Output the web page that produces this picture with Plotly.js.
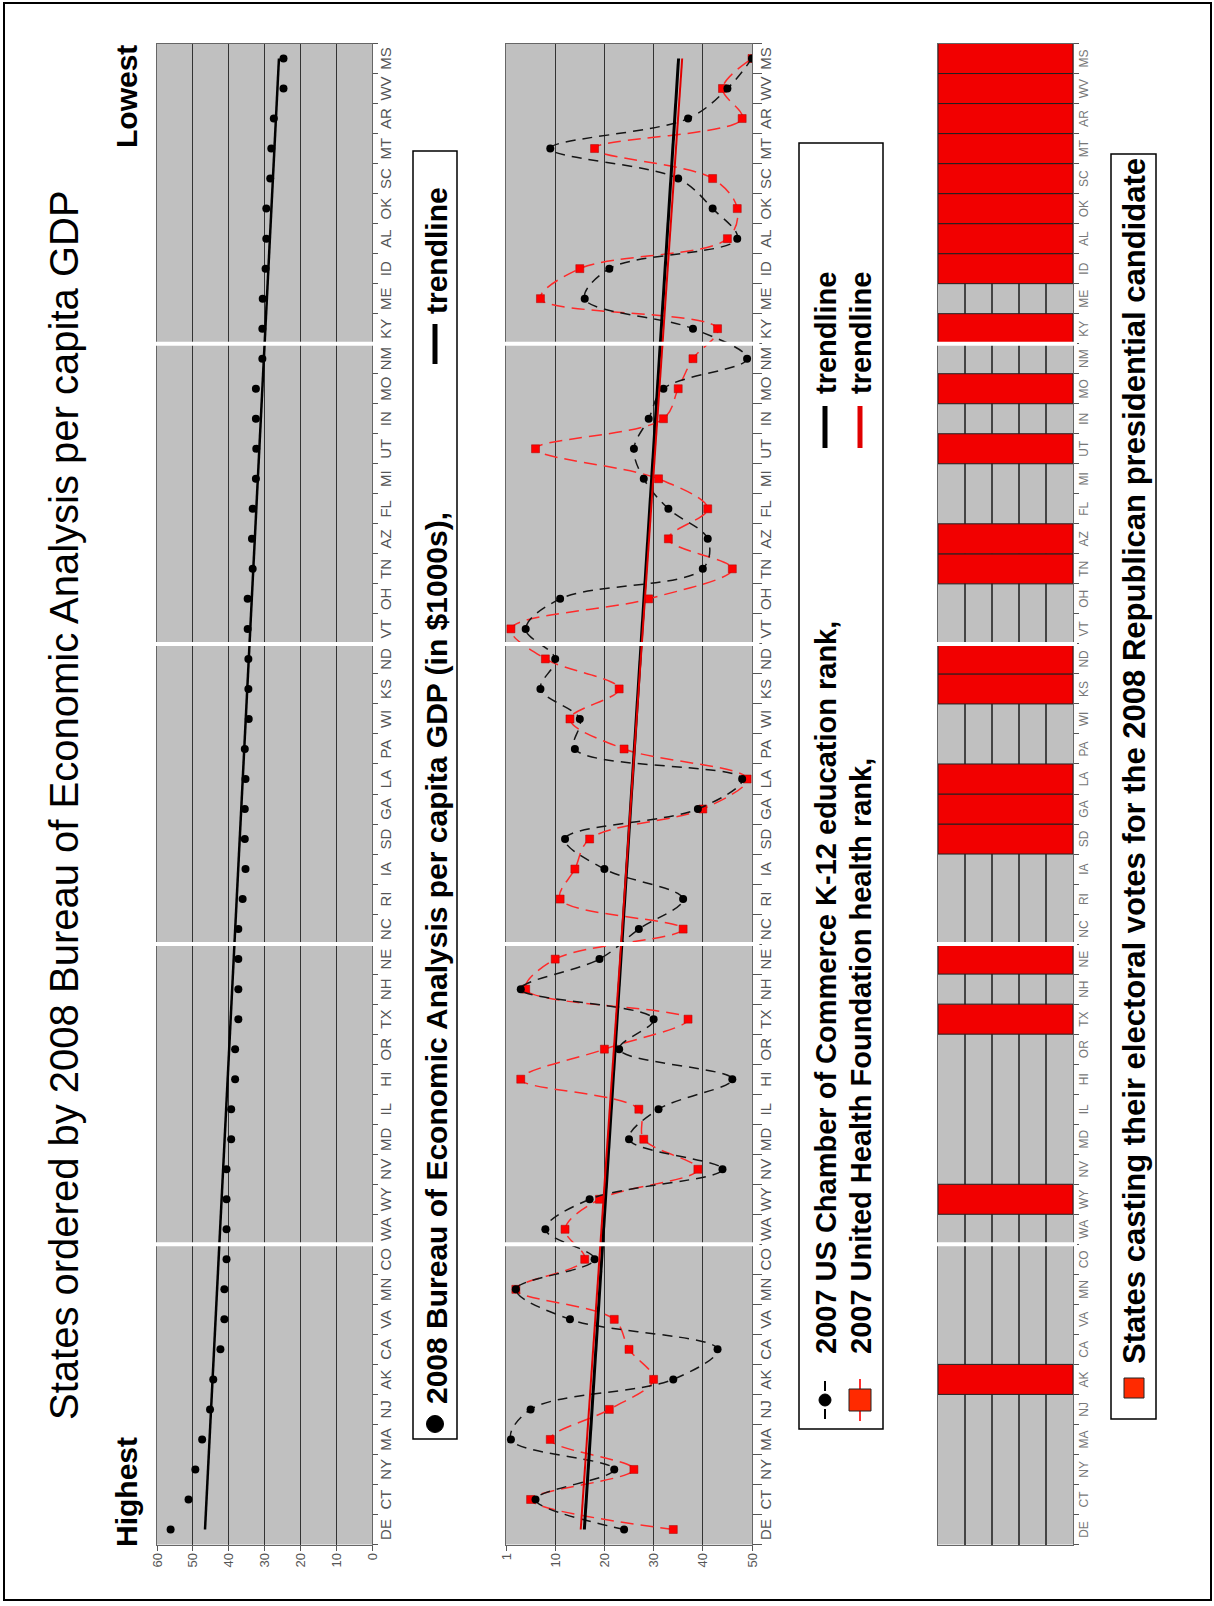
<!DOCTYPE html>
<html><head><meta charset="utf-8">
<script src="https://cdn.plot.ly/plotly-3.0.1.min.js"></script>
<style>
html,body{margin:0;padding:0;background:#fff;overflow:hidden;width:1214px;height:1606px;}
#wrap{position:absolute;left:0;top:0;width:1606px;height:1214px;transform-origin:0 0;transform:translate(0px,1606px) rotate(-90deg);}
#chart{width:1606px;height:1214px;}
</style></head><body>
<div id="wrap"><div id="chart"></div></div>
<script>
// ---- data ----
const states = ['DE','CT','NY','MA','NJ','AK','CA','VA','MN','CO','WA','WY','NV','MD','IL','HI','OR','TX','NH','NE','NC','RI','IA','SD','GA','LA','PA','WI','KS','ND','VT','OH','TN','AZ','FL','MI','UT','IN','MO','NM','KY','ME','ID','AL','OK','SC','MT','AR','WV','MS'];
const gdp = [56.2,51.2,49.3,47.4,45.2,44.3,42.3,41.2,41.2,40.6, 40.6,40.6,40.6,39.3,39.3,38.2,38.2,37.3,37.3,37.3, 37.3,36.1,35.3,35.5,35.5,35.3,35.5,34.4,34.5,34.5, 34.7,34.7,33.3,33.5,33.3,32.4,32.3,32.4,32.4,30.6, 30.6,30.5,29.7,29.5,29.5,28.4,28.1,27.4,24.7,24.7];
const eduRank = [24,6,22,1,5,34,43,13,2,18, 8,17,44,25,31,46,23,30,3,19, 27,36,20,12,39,48,14,15,7,10, 4,11,40,41,33,28,26,29,32,49, 38,16,21,47,42,35,9,37,45,50];
const healthRank = [34,5,26,9,21,30,25,22,2,16, 12,19,39,28,27,3,20,37,4,10, 36,11,14,17,40,49,24,13,23,8, 1,29,46,33,41,31,6,32,35,38, 43,7,15,45,47,42,18,48,44,50];
const republican = [0,0,0,0,0,1,0,0,0,0, 0,1,0,0,0,0,0,1,0,1, 0,0,0,1,1,1,0,0,1,1, 0,0,1,1,0,0,1,0,1,0, 1,0,1,1,1,1,1,1,1,1];
const gdpTicks = [0,10,20,30,40,50,60];
const rankTickVals = [0,10,20,30,40,50];
const rankTickText = ['1','10','20','30','40','50'];
const groupBreaks = [9.5,19.5,29.5,39.5];

const titleText = 'States ordered by 2008 Bureau of Economic Analysis per capita GDP';
const gdpLegend = '2008 Bureau of Economic Analysis per capita GDP (in $1000s),';
const eduLegend = '2007 US Chamber of Commerce K-12 education rank,';
const healthLegend = '2007 United Health Foundation health rank,';
const voteLegend = 'States casting their electoral votes for the 2008 Republican presidential candidate';

// ---- helpers ----
function linfit(vals){
  const n = vals.length; let sx=0, sy=0, sxx=0, sxy=0;
  for(let i=0;i<n;i++){const x=i+1; sx+=x; sy+=vals[i]; sxx+=x*x; sxy+=x*vals[i];}
  const b=(n*sxy-sx*sy)/(n*sxx-sx*sx), a=(sy-b*sx)/n;
  return vals.map((v,i)=>a+b*(i+1));
}
const W=1606, H=1214;
const PX = v => v/W, PY = v => 1 - v/H;
const xDom = [61.5/W, 1562.5/W];
const FONT = 'Liberation Sans, Arial, sans-serif';

function catAxis(anchor, fs, tl, col){
  return {domain:xDom, anchor:anchor, type:'category', categoryorder:'array', categoryarray:states,
    range:[-0.5,49.5], tickmode:'linear', tick0:0, dtick:1, tickson:'boundaries', tickangle:0,
    ticks:'outside', ticklen:tl, tickcolor:'#555', showline:true, mirror:true, linecolor:'#666', linewidth:1,
    showgrid:false, zeroline:false, tickfont:{family:FONT, size:fs, color:col}, fixedrange:true};
}

const data = [
  {type:'scatter', mode:'markers', x:states, y:gdp, xaxis:'x', yaxis:'y', marker:{color:'#000', size:8}},
  {type:'scatter', mode:'lines', x:states, y:linfit(gdp), xaxis:'x', yaxis:'y', line:{color:'#000', width:2.5}},
  {type:'scatter', mode:'lines+markers', x:states, y:healthRank, xaxis:'x2', yaxis:'y2',
    line:{color:'#ff2a2a', width:1.5, dash:'13px,7px', shape:'spline', smoothing:1},
    marker:{symbol:'square', size:8, color:'#ff0000', line:{color:'#a00', width:0.5}}},
  {type:'scatter', mode:'lines+markers', x:states, y:eduRank, xaxis:'x2', yaxis:'y2',
    line:{color:'#151515', width:1.5, dash:'10px,7px', shape:'spline', smoothing:1},
    marker:{symbol:'circle', size:8, color:'#000'}},
  {type:'scatter', mode:'lines', x:states, y:linfit(eduRank), xaxis:'x2', yaxis:'y2', line:{color:'#000', width:3}},
  {type:'scatter', mode:'lines', x:states, y:linfit(healthRank), xaxis:'x2', yaxis:'y2', line:{color:'#e00000', width:2}},
  {type:'bar', x:states, y:republican.map(v=>v?1:null), xaxis:'x3', yaxis:'y3', width:1,
    marker:{color:'#f20000', line:{color:'#222', width:1}}}
];

const valFont = {family:FONT, size:13, color:'#555'};
const layout = {
  width:W, height:H, margin:{l:0,r:0,t:0,b:0}, showlegend:false,
  paper_bgcolor:'#fff', plot_bgcolor:'#c0c0c0',
  xaxis: catAxis('y', 15, 5, '#555'),
  xaxis2: catAxis('y2', 15, 9, '#555'),
  xaxis3: catAxis('y3', 12, 5, '#777'),
  yaxis: {domain:[1-372/H, 1-157/H], anchor:'x', range:[0,60], tickmode:'array', tickvals:gdpTicks,
    ticks:'outside', ticklen:5, tickcolor:'#555', showgrid:true, gridcolor:'#333', gridwidth:1,
    showline:true, mirror:true, linecolor:'#666', zeroline:false, tickfont:valFont, fixedrange:true},
  yaxis2: {domain:[1-752/H, 1-506/H], anchor:'x2', range:[50,0], tickmode:'array', tickvals:rankTickVals, ticktext:rankTickText,
    ticks:'outside', ticklen:5, tickcolor:'#555', showgrid:true, gridcolor:'#333', gridwidth:1,
    showline:true, mirror:true, linecolor:'#666', zeroline:false, tickfont:valFont, fixedrange:true},
  yaxis3: {domain:[1-1073/H, 1-938/H], anchor:'x3', range:[0,1], dtick:0.2, tick0:0, showticklabels:false,
    ticks:'', showgrid:true, gridcolor:'#444', gridwidth:1.5, showline:true, mirror:true, linecolor:'#666', zeroline:false, fixedrange:true},
  shapes:[], annotations:[]
};

// white separators between groups of ten states
[['x','y'],['x2','y2'],['x3','y3']].forEach(([xa,ya])=>{
  groupBreaks.forEach(b=>layout.shapes.push({type:'line', xref:xa, yref:ya+' domain', x0:b, x1:b, y0:-0.03, y1:1.03,
    line:{color:'#fff', width:4}, layer:'above'}));
});

// frame
layout.shapes.push({type:'rect', xref:'paper', yref:'paper', x0:PX(6), x1:PX(1603), y0:PY(4), y1:PY(1211), line:{color:'#000', width:2}});

function rectPx(x0,x1,y0,y1,fill,lc,lw){return {type:'rect', xref:'paper', yref:'paper', x0:PX(x0), x1:PX(x1), y0:PY(y0), y1:PY(y1), fillcolor:fill, line:{color:lc, width:lw}};}
function linePx(x0,x1,y,c,w,dash){return {type:'line', xref:'paper', yref:'paper', x0:PX(x0), x1:PX(x1), y0:PY(y), y1:PY(y), line:{color:c, width:w, dash:dash||'solid'}};}
function circlePx(cx,cy,r,c){return {type:'circle', xref:'paper', yref:'paper', x0:PX(cx-r), x1:PX(cx+r), y0:PY(cy-r), y1:PY(cy+r), fillcolor:c, line:{color:c, width:1}};}
function ann(text,lx,ly,size,bold,anchor){return {xref:'paper', yref:'paper', x:PX(lx), y:PY(ly), text:bold?'<b>'+text+'</b>':text,
  showarrow:false, xanchor:anchor||'left', yanchor:'middle', font:{family:FONT, size:size, color:'#000'}};}

// titles
layout.annotations.push(ann(titleText, 801, 64, 40, false, 'center'));
layout.annotations.push(ann('Highest', 114, 126, 30, true, 'center'));
layout.annotations.push(ann('Lowest', 1509, 126, 30, true, 'center'));

// legend 1
layout.shapes.push(rectPx(167,1455,413,457,'#fff','#000',1.5));
layout.shapes.push(circlePx(182,435,8.5,'#000'));
layout.annotations.push(ann(gdpLegend, 200, 436, 30, true));
layout.shapes.push(linePx(1242,1282,435,'#000',5));
layout.annotations.push(ann('trendline', 1290, 436, 30, true));

// legend 2
layout.shapes.push(rectPx(177,1463,799,883,'#fff','#000',1.5));
layout.shapes.push(linePx(187,197,825,'#000',2));
layout.shapes.push(linePx(215,225,825,'#000',2));
layout.shapes.push(circlePx(206,825,6,'#000'));
layout.shapes.push(linePx(185,195,860,'#ff3030',2));
layout.shapes.push(linePx(217,227,860,'#ff3030',2));
layout.shapes.push(rectPx(195,217,849,871,'#ff2a00','#222',1));
layout.annotations.push(ann(eduLegend, 250, 826, 29, true));
layout.annotations.push(ann(healthLegend, 250, 861, 29, true));
layout.shapes.push(linePx(1158,1200,825,'#000',5));
layout.shapes.push(linePx(1158,1200,860,'#e00000',5));
layout.annotations.push(ann('trendline', 1210, 826, 29, true));
layout.annotations.push(ann('trendline', 1210, 861, 29, true));

// legend 3
layout.shapes.push(rectPx(187,1452,1111,1156,'#fff','#000',1.5));
layout.shapes.push(rectPx(208,228,1124,1144,'#ff2a00','#222',1));
layout.annotations.push(ann(voteLegend, 240, 1134, 31, true));

Plotly.newPlot('chart', data, layout, {staticPlot:true, displayModeBar:false});
</script>
</body></html>
